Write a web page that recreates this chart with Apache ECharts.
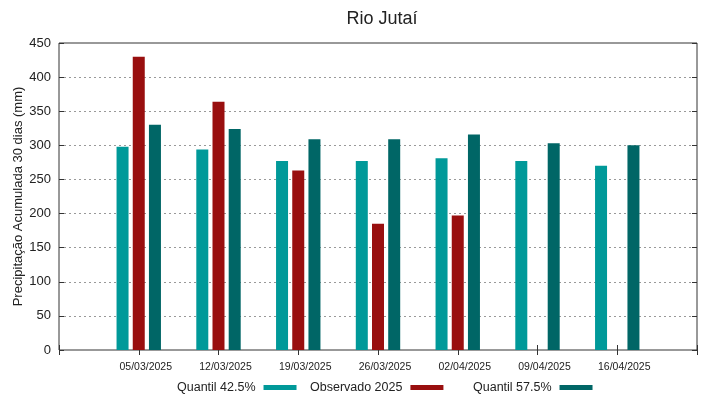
<!DOCTYPE html>
<html>
<head>
<meta charset="utf-8">
<title>Rio Jutaí</title>
<script src="https://cdn.jsdelivr.net/npm/echarts@6/dist/echarts.min.js"></script>
<style>
  html, body { margin: 0; padding: 0; background: #fff; }
  #main { width: 719px; height: 399px; }
</style>
</head>
<body>
<div id="main"></div>
<script>
// datas das semanas
var dates = ['05/03/2025', '12/03/2025', '19/03/2025', '26/03/2025', '02/04/2025', '09/04/2025', '16/04/2025'];
// valores (mm)
var quantil425 = [298, 294, 277, 277, 281, 277, 270];
var observado = [430, 364, 263, 185, 197, null, null];
var quantil575 = [330, 324, 309, 309, 316, 303, 300];
var yTicks = [0, 50, 100, 150, 200, 250, 300, 350, 400, 450];

var font = 'Liberation Sans';

// uma categoria vazia em cada ponta, como no original
var cats = [''].concat(dates, ['']);
function pad(arr) { return [null].concat(arr, [null]); }

var myChart = echarts.init(document.getElementById('main'));

var tickStyle = { show: true, inside: true, length: 5, lineStyle: { color: '#333' } };

var option = {
  animation: false,
  textStyle: { fontFamily: font },
  title: {
    text: 'Rio Jutaí',
    left: 377, top: 5, textAlign: 'center',
    textStyle: { fontFamily: font, fontSize: 18, fontWeight: 'normal', color: '#222' }
  },
  grid: {
    left: 59, right: 22, top: 43, bottom: 49,
    outerBoundsMode: 'none', containLabel: false,
    show: true, borderColor: '#333', borderWidth: 1, backgroundColor: '#fff'
  },
  // legenda: texto e depois a amostra de cor
  legend: [
    { data: ['Quantil 42.5%'], left: 177 },
    { data: ['Observado 2025'], left: 310 },
    { data: ['Quantil 57.5%'], left: 473 }
  ].map(function (l) {
    return Object.assign(l, {
      top: 381, padding: 0, align: 'right', icon: 'rect', itemWidth: 33, itemHeight: 5,
      textStyle: { fontFamily: font, fontSize: 12.5, color: '#222', padding: [0, 3, 0, 0] }
    });
  }),
  xAxis: [
    {
      type: 'category', data: cats, boundaryGap: false,
      axisLine: { show: false },
      axisTick: tickStyle,
      axisLabel: {
        fontFamily: font, fontSize: 10.5, color: '#222', margin: 12, interval: 0,
        padding: [0, 0, 0, 14]
      },
      splitLine: { show: false }
    },
    {
      type: 'category', data: cats, boundaryGap: false, position: 'top',
      axisLine: { show: false },
      axisTick: tickStyle,
      axisLabel: { show: false },
      splitLine: { show: false }
    }
  ],
  yAxis: [
    {
      type: 'value', min: yTicks[0], max: yTicks[yTicks.length - 1], interval: 50,
      name: 'Precipitação Acumulada 30 dias (mm)',
      nameLocation: 'middle', nameGap: 34, nameMoveOverlap: false,
      nameTextStyle: { fontFamily: font, fontSize: 13, color: '#222' },
      axisLine: { show: false },
      axisTick: tickStyle,
      axisLabel: { fontFamily: font, fontSize: 13, color: '#222', margin: 8 },
      splitLine: { show: true, lineStyle: { color: '#999', type: [2, 3], width: 1 } }
    },
    {
      type: 'value', min: yTicks[0], max: yTicks[yTicks.length - 1], interval: 50,
      position: 'right',
      axisLine: { show: false },
      axisTick: tickStyle,
      axisLabel: { show: false },
      splitLine: { show: false }
    }
  ],
  series: [
    {
      name: 'Quantil 42.5%', type: 'bar', data: pad(quantil425),
      barWidth: 12, barGap: '35%',
      itemStyle: { color: '#009999' }
    },
    {
      name: 'Observado 2025', type: 'bar', data: pad(observado),
      barWidth: 12, barGap: '35%',
      itemStyle: { color: '#990f0f' }
    },
    {
      name: 'Quantil 57.5%', type: 'bar', data: pad(quantil575),
      barWidth: 12, barGap: '35%',
      itemStyle: { color: '#006666' }
    }
  ]
};

myChart.setOption(option);
</script>
</body>
</html>
